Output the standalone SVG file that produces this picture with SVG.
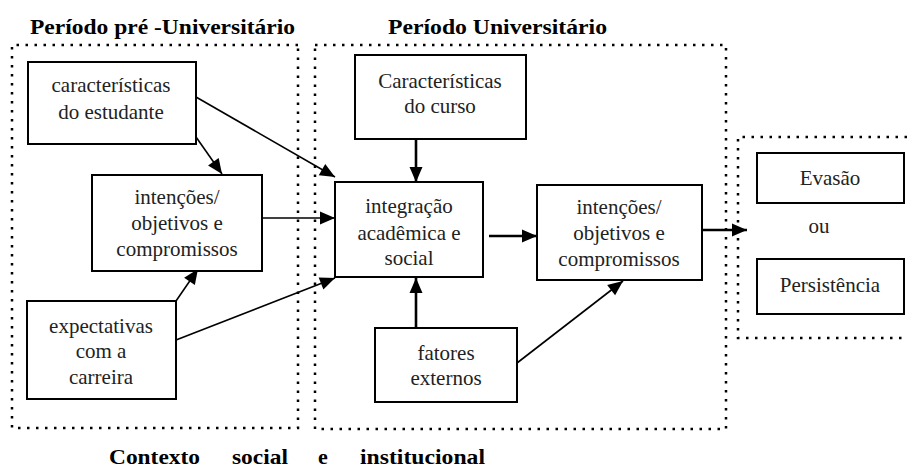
<svg xmlns="http://www.w3.org/2000/svg" width="907" height="471" viewBox="0 0 907 471">
<defs>
<marker id="ah" markerUnits="userSpaceOnUse" markerWidth="16" markerHeight="14" refX="15" refY="6.5" orient="auto" overflow="visible">
<path d="M0,0 L15,6.5 L0,13 z" fill="#000"/>
</marker>
<style>
.dot{fill:none;stroke:#000;stroke-width:2.5;stroke-dasharray:2.5 6.5}
.box{fill:#fff;stroke:#000;stroke-width:2}
.t{font-family:"Liberation Serif","Times New Roman",serif;font-size:21px;fill:#222;text-anchor:middle}
.h{font-family:"Liberation Serif","Times New Roman",serif;font-size:21px;font-weight:bold;fill:#000}
.b{font-size:22px}
.c{fill:none;stroke:#000;stroke-width:1.6}
.ck{fill:none;stroke:#000;stroke-width:2.6}
</style>
</defs>
<rect width="907" height="471" fill="#fff"/>
<g id="regions">
<path class="dot" d="M298,45 H12 V428 H298 V45"/>
<path class="dot" d="M315,45 H726 V429 H315 V45"/>
<path class="dot" d="M907,137 H738 V338 H907"/>
</g>
<g id="titles">
<text class="h" x="30" y="34" textLength="265" lengthAdjust="spacingAndGlyphs">Período pré -Universitário</text>
<text class="h" x="388" y="34" textLength="219" lengthAdjust="spacingAndGlyphs">Período Universitário</text>
<text class="h b" x="109" y="464" textLength="91" lengthAdjust="spacingAndGlyphs">Contexto</text>
<text class="h b" x="232" y="464" textLength="56" lengthAdjust="spacingAndGlyphs">social</text>
<text class="h b" x="318" y="464">e</text>
<text class="h b" x="360" y="464" textLength="125" lengthAdjust="spacingAndGlyphs">institucional</text>
</g>
<g id="connectors">
<path class="c" d="M196,97 L335,177" marker-end="url(#ah)"/>
<path class="c" d="M196,137 L222,174" marker-end="url(#ah)"/>
<path class="c" d="M254,218 L335,218" marker-end="url(#ah)"/>
<path class="c" d="M176,301 L198,269" marker-end="url(#ah)"/>
<path class="c" d="M176,340 L335,278" marker-end="url(#ah)"/>
<path class="ck" d="M416,133 L416,182" marker-end="url(#ah)"/>
<path class="ck" d="M416,330 L416,278" marker-end="url(#ah)"/>
<path class="ck" d="M489,236 L537,236" marker-end="url(#ah)"/>
<path class="c" d="M517,363 L623,281" marker-end="url(#ah)"/>
<path class="ck" d="M702,230 L747,230" marker-end="url(#ah)"/>
</g>
<g id="caracteristicas-estudante">
<rect class="box" x="28" y="62" width="168" height="82"/>
<text class="t" x="111" y="92">características</text>
<text class="t" x="111" y="119">do estudante</text>
</g>
<g id="intencoes-pre">
<rect class="box" x="92" y="175" width="170" height="96" fill="none"/>
<text class="t" x="177" y="204">intenções/</text>
<text class="t" x="177" y="230">objetivos e</text>
<text class="t" x="177" y="256">compromissos</text>
</g>
<g id="expectativas">
<rect class="box" x="27" y="301" width="149" height="98"/>
<text class="t" x="101" y="333">expectativas</text>
<text class="t" x="101" y="358">com a</text>
<text class="t" x="101" y="384">carreira</text>
</g>
<g id="caracteristicas-curso">
<rect class="box" x="355" y="55" width="171" height="84"/>
<text class="t" x="440" y="88">Características</text>
<text class="t" x="440" y="113">do curso</text>
</g>
<g id="integracao">
<rect class="box" x="335" y="182" width="148" height="95"/>
<text class="t" x="409" y="213">integração</text>
<text class="t" x="409" y="240">acadêmica e</text>
<text class="t" x="409" y="265">social</text>
</g>
<g id="intencoes-univ">
<rect class="box" x="537" y="185" width="165" height="95"/>
<text class="t" x="619" y="214">intenções/</text>
<text class="t" x="619" y="240">objetivos e</text>
<text class="t" x="619" y="266">compromissos</text>
</g>
<g id="fatores-externos">
<rect class="box" x="375" y="328" width="142" height="74"/>
<text class="t" x="446" y="360">fatores</text>
<text class="t" x="446" y="385">externos</text>
</g>
<g id="evasao">
<rect class="box" x="757" y="153" width="147" height="50"/>
<text class="t" x="830" y="185">Evasão</text>
</g>
<g id="ou">
<text class="t" x="819" y="233">ou</text>
</g>
<g id="persistencia">
<rect class="box" x="757" y="259" width="147" height="55"/>
<text class="t" x="830" y="292">Persistência</text>
</g>
</svg>
